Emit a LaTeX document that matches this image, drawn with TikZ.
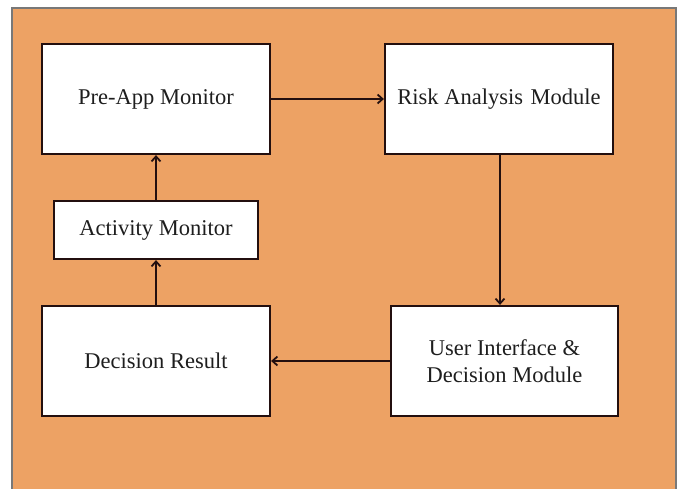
\documentclass[tikz,border=0pt]{standalone}
\usepackage{fontspec}
\setmainfont{Liberation Serif}
\usetikzlibrary{arrows.meta}
\definecolor{bgorange}{RGB}{237,162,100}
\definecolor{framegray}{RGB}{120,120,120}
\definecolor{linedark}{RGB}{35,15,15}
\definecolor{txt}{RGB}{30,30,30}
\begin{document}
\begin{tikzpicture}[x=1pt,y=-1pt,
  box/.style={draw=linedark, line width=2.2pt, fill=white, inner sep=0pt,
    text=txt, font=\fontsize{22.5}{27}\selectfont, align=center},
  conn/.style={draw=linedark, line width=2.2pt,
    -{Straight Barb[length=5pt,width=9pt,line width=1.8pt]}}]
\useasboundingbox (0,0) rectangle (681,488);
\fill[white] (0,0) rectangle (681,488);
\draw[fill=bgorange, draw=framegray, line width=1.5pt] (12,8) rectangle (676,496);
\node[box, minimum width=228pt, minimum height=110pt] (pre) at (156,99) {Pre-App Monitor};
\node[box, minimum width=228pt, minimum height=110pt] (risk) at (499,99) {Risk Analysis\,\,Module};
\node[box, minimum width=204pt, minimum height=58pt] (act) at (156,230) {Activity Monitor};
\node[box, minimum width=228pt, minimum height=110pt] (dec) at (156,361) {Decision Result};
\node[box, minimum width=227pt, minimum height=110pt] (ui) at (504.5,361) {User Interface \&\\Decision Module};
\draw[conn] (pre.east) -- (risk.west);
\draw[conn] (risk.south) ++(1,0) coordinate (rs) -- (rs |- ui.north);
\draw[conn] (ui.west) -- (dec.east);
\draw[conn] (dec.north) -- (act.south);
\draw[conn] (act.north) -- (pre.south);
\end{tikzpicture}
\end{document}
